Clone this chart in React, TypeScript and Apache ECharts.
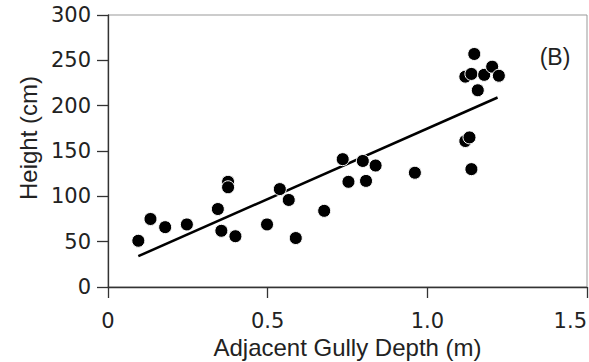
import React, { useEffect, useRef } from "react";
import * as echarts from "echarts";

const depthX = [0.095, 0.133, 0.179, 0.247, 0.344, 0.355, 0.376, 0.376, 0.399, 0.498, 0.538, 0.566, 0.588, 0.677, 0.735, 0.753, 0.798, 0.808, 0.838, 0.961, 1.119, 1.132, 1.138, 1.119, 1.138, 1.147, 1.158, 1.178, 1.203, 1.224];
const heightY = [51, 75, 66, 69, 86, 62, 116, 110, 56, 69, 108, 96, 54, 84, 141, 116, 139, 117, 134, 126, 161, 165, 130, 232, 235, 257, 217, 234, 243, 233];
const fitX = [0.095, 1.22];
const fitY = [34, 209];
const xTicks = [0, 0.5, 1.0, 1.5];
const xTickLabels = ["0", "0.5", "1.0", "1.5"];
const panelLabel = "(B)";
const xName = "Adjacent Gully Depth (m)";
const yName = "Height (cm)";

export default function App() {
  const ref = useRef<HTMLDivElement>(null);
  useEffect(() => {
    if (!ref.current) return;
    const chart = echarts.init(ref.current, null, { renderer: "svg" });
    const tickFont = "DejaVu Sans";
    const nameFont = "Liberation Sans";
    chart.setOption({
      animation: false,
      backgroundColor: "#fff",
      grid: {
        left: 108,
        top: 15,
        right: 2,
        bottom: 75,
        show: true,
        borderColor: "#999",
        borderWidth: 1,
        containLabel: false,
        outerBoundsMode: "none",
      },
      xAxis: {
        type: "value",
        min: 0,
        max: 1.5,
        interval: 0.5,
        name: xName,
        nameLocation: "middle",
        nameGap: 46,
        nameTextStyle: { fontFamily: nameFont, fontSize: 24, color: "#222" },
        axisLine: { show: true, lineStyle: { color: "#333", width: 1.3 } },
        axisTick: { show: true, length: 11, lineStyle: { color: "#333", width: 1.3 } },
        splitLine: { show: false },
        axisLabel: {
          margin: 23,
          fontFamily: tickFont,
          fontSize: 21,
          color: "#222",
          alignMaxLabel: "right",
          formatter: (v: number) => {
            const i = xTicks.findIndex((t) => Math.abs(t - v) < 1e-9);
            return i >= 0 ? xTickLabels[i] : "";
          },
        },
      },
      yAxis: {
        type: "value",
        min: 0,
        max: 300,
        interval: 50,
        axisLine: { show: true, lineStyle: { color: "#333", width: 1.3 } },
        axisTick: { show: true, length: 11, lineStyle: { color: "#333", width: 1.3 } },
        splitLine: { show: false },
        axisLabel: { margin: 17, fontFamily: tickFont, fontSize: 21, color: "#222" },
      },
      graphic: [
        {
          type: "text",
          x: 28,
          y: 138,
          rotation: Math.PI / 2,
          style: { text: yName, fontFamily: nameFont, fontSize: 24, fill: "#222", align: "center", verticalAlign: "middle" },
        },
        {
          type: "text",
          x: 555,
          y: 57,
          style: { text: panelLabel, fontFamily: nameFont, fontSize: 23, fill: "#222", align: "center", verticalAlign: "middle" },
        },
      ],
      series: [
        {
          type: "line",
          data: fitX.map((x, i) => [x, fitY[i]]),
          symbol: "none",
          lineStyle: { color: "#000", width: 2.5 },
          z: 2,
        },
        {
          type: "scatter",
          data: depthX.map((x, i) => [x, heightY[i]]),
          symbol: "circle",
          symbolSize: 13,
          itemStyle: { color: "#000", borderColor: "#fff", borderWidth: 1, opacity: 1 },
          z: 3,
        },
      ],
    });
    return () => chart.dispose();
  }, []);
  return <div ref={ref} style={{ width: 589, height: 362, position: "absolute", left: 0, top: 0 }} />;
}
